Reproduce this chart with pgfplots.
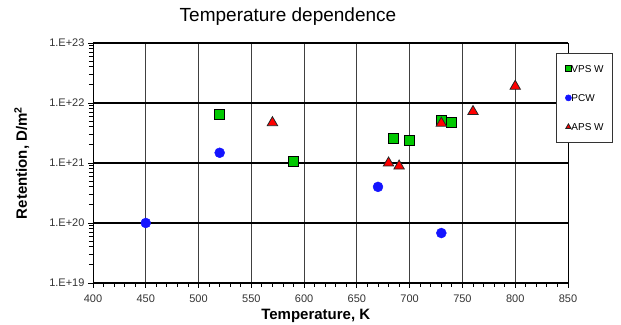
\documentclass[border=0pt]{standalone}
\usepackage{fontspec}
\setmainfont{Liberation Sans}
\usepackage{pgfplots}
\pgfplotsset{compat=1.18}
\definecolor{vpsgreen}{RGB}{0,200,0}
\definecolor{pcwblue}{RGB}{20,20,255}
\definecolor{apsred}{RGB}{255,0,0}
\begin{document}
\begin{tikzpicture}
\path[use as bounding box] (-93pt,-41pt) rectangle (528pt,283pt);
\begin{axis}[
  at={(0pt,0pt)}, anchor=south west,
  scale only axis, width=475pt, height=240pt,
  xmin=400, xmax=850, ymin=1e19, ymax=1e23,
  ymode=log,
  axis line style={black, line width=0.8pt},
  xtick pos=bottom, ytick pos=left,
  xtick={400,450,...,850},
  minor x tick num=4,
  ytick={1e19,1e20,1e21,1e22,1e23},
  minor ytick={2e19,3e19,4e19,5e19,6e19,7e19,8e19,9e19,2e20,3e20,4e20,5e20,6e20,7e20,8e20,9e20,2e21,3e21,4e21,5e21,6e21,7e21,8e21,9e21,2e22,3e22,4e22,5e22,6e22,7e22,8e22,9e22},
  yticklabels={1.E+19,1.E+20,1.E+21,1.E+22,1.E+23},
  xticklabels={400,450,500,550,600,650,700,750,800,850},
  tick align=outside,
  major tick length=5pt, minor tick length=4pt,
  every tick/.append style={black, line width=0.9pt},
  xmajorgrids, ymajorgrids,
  x grid style={black!75, line width=0.9pt},
  y grid style={black, line width=1.3pt},
  tick label style={font=\fontsize{11}{11}\selectfont, text=black!80},
  xticklabel style={yshift=-3pt},
  title={Temperature dependence},
  title style={at={(axis description cs:0.4105,1)}, anchor=base, yshift=15pt, font=\fontsize{19}{19}\selectfont},
  xlabel={Temperature, K},
  xlabel style={at={(axis description cs:0.469,0)}, anchor=base, yshift=-37pt, font=\bfseries\fontsize{15}{15}\selectfont},
  ylabel={Retention, D/m\textsuperscript{2}},
  ylabel style={at={(axis description cs:-0.15,0.5)}, anchor=center, font=\bfseries\fontsize{15}{15}\selectfont},
  legend style={at={(axis description cs:0.975,0.958)}, anchor=north west,
    draw=black!80, line width=0.6pt, fill=white,
    inner xsep=9pt, inner ysep=12pt, row sep=22pt,
    font=\fontsize{10}{10}\selectfont,
    nodes={inner sep=0pt, text height=7pt, text depth=0pt}},
  legend cell align=left,
  legend image code/.code={\draw[#1, mark size=3pt] plot coordinates {(0pt,0pt)};},
]
\addplot[only marks, mark=square*, mark size=5pt, mark options={fill=vpsgreen, draw=black, line width=1pt}]
  coordinates {(520,6.4e21) (590,1.06e21) (685,2.6e21) (700,2.35e21) (730,5.2e21) (740,4.7e21)};
\addlegendentry{VPS W}
\addplot[only marks, mark=*, mark size=5pt, mark options={fill=pcwblue, draw=pcwblue}]
  coordinates {(450,1e20) (520,1.48e21) (670,4.0e20) (730,6.8e19)};
\addlegendentry{PCW}
\addplot[only marks, mark=triangle*, mark size=6pt, mark options={fill=apsred, draw=black!85, line width=0.8pt}]
  coordinates {(570,4.7e21) (680,1.0e21) (690,8.9e20) (730,4.6e21) (760,7.2e21) (800,1.9e22)};
\addlegendentry{APS W}
\end{axis}
\end{tikzpicture}
\end{document}
